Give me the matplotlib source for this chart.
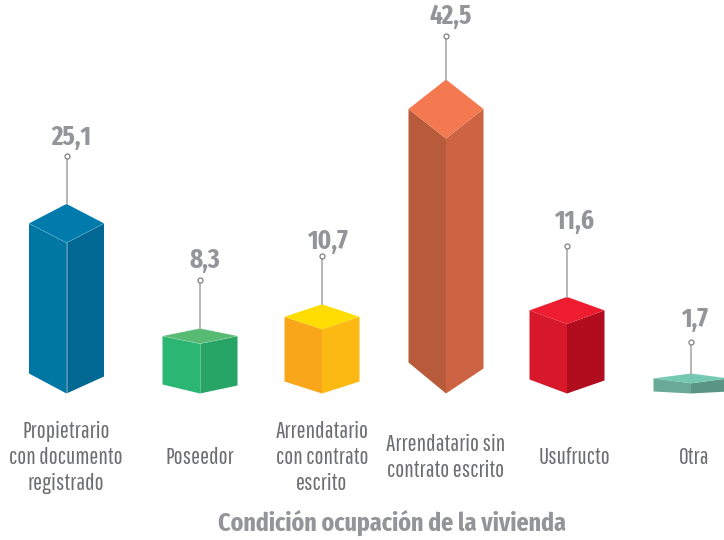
import matplotlib
matplotlib.use('Agg')
import matplotlib.pyplot as plt
from matplotlib.patches import Polygon

categories = ['Propietrario\ncon documento\nregistrado', 'Poseedor',
              'Arrendatario\ncon contrato\nescrito',
              'Arrendatario sin\ncontrato escrito', 'Usufructo', 'Otra']
values = [25.1, 8.3, 10.7, 42.5, 11.6, 1.7]
value_labels = ['25,1', '8,3', '10,7', '42,5', '11,6', '1,7']
axis_title = 'Condición ocupación de la vivienda'

# layout, in pixels of the 724x540 picture
px_per_unit = 6.0
base_y = 393.5
half_w = 37.5
centers = [66.5, 200, 322, 446, 567, 691]
top_depth = [19.5, 7.6, 12.5, 29.5, 13.5, 4.9]
low_left = [20, 9, 12, 31, 14, 2]
low_right = [17, 8, 12, 25, 13, 2]
stem_len = [48, 49, 48, 44, 51, 32]
label_x = [71, 205, 327.5, 451, 574, 694]
label_gap = [18.5, 19.5, 14.5, 19, 25, 22.5]
cat_x = [66, 200, 322, 446, 575, 694]
cat_y = 457.5

left_cols = ['#0076A3', '#2BB673', '#FAA61A', '#B85B3A', '#D7182A', '#69A996']
right_cols = ['#006892', '#27A567', '#FDB913', '#CC6443', '#B20D1E', '#5A9683']
top_cols = ['#007BAC', '#57BB73', '#FFDD00', '#F47950', '#ED1C2E', '#75C9B3']
# faint light seam on the bars that show one
seam = [True, True, False, False, False, False]

GREY = '#939598'
THIN_FONT = ['Pathway Gothic One', 'Roboto Condensed', 'Liberation Sans', 'DejaVu Sans']
BOLD_FONT = ['Fira Sans Extra Condensed', 'Roboto Condensed', 'Liberation Sans', 'DejaVu Sans']


def y_of(v):
    return v * px_per_unit


def draw_bar(ax, i):
    x = centers[i]
    xl, xr = x - half_w, x + half_w
    # front edge runs from the low apex (value 0) up to y_of(value)
    front = y_of(values[i])
    d = top_depth[i]
    ax.add_patch(Polygon([(xl, low_left[i]), (x, 0), (x, front), (xl, front + d)],
                         fc=left_cols[i], ec='none'))
    ax.add_patch(Polygon([(xr, low_right[i]), (x, 0), (x, front), (xr, front + d)],
                         fc=right_cols[i], ec='none'))
    ax.add_patch(Polygon([(xl, front + d), (x, front), (xr, front + d), (x, front + 2 * d)],
                         fc=top_cols[i], ec='none'))
    if seam[i]:
        ax.plot([x, x], [0, front], color='white', alpha=0.3, lw=0.7, zorder=2)
        ax.plot([xl, x, xr], [front + d, front, front + d], color='white', alpha=0.2,
                lw=0.6, zorder=2)
    top = front + 2 * d
    ax.plot([x, x], [top, top + stem_len[i]], color='#A7A9AC', lw=1.2, zorder=3)
    ax.plot([x], [top + stem_len[i]], marker='o', ms=3.6, mfc='white', mec='#808285',
            mew=0.9, zorder=4)
    ax.text(label_x[i], top + stem_len[i] + label_gap[i], value_labels[i], color=GREY,
            fontsize=19.5, fontweight='bold', ha='center', va='center', family=BOLD_FONT)


fig = plt.figure(figsize=(7.24, 5.4), dpi=100)
ax = fig.add_axes([0, 0, 1, 1])
ax.set_xlim(0, 724)
ax.set_ylim(base_y - 540, base_y)
ax.axis('off')

for i in range(len(values)):
    draw_bar(ax, i)
    ax.text(cat_x[i], base_y - cat_y, categories[i], color='#6D6E71', fontsize=17.2,
            ha='center', va='center', linespacing=1.27, family=THIN_FONT)

ax.text(391.5, base_y - 523, axis_title, color=GREY, fontsize=18.7, fontweight='bold',
        ha='center', va='center', family=BOLD_FONT)

fig.savefig('out.png', dpi=100)
